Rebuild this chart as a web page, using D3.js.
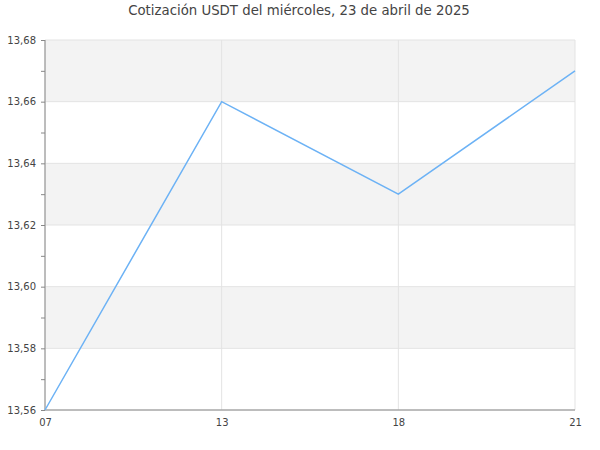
<!DOCTYPE html>
<html>
<head>
<meta charset="utf-8">
<script src="https://cdn.jsdelivr.net/npm/d3@7"></script>
<style>
	body { margin: 0; background: #fff; }
	text { font-family: "DejaVu Sans", sans-serif; }
</style>
</head>
<body>
<svg width="600" height="450"></svg>
<script>
// datos del gráfico
var horas = ['07', '13', '18', '21'];
var cotizacion = [13.56, 13.66, 13.63, 13.67];
var ticksY = [13.56, 13.58, 13.60, 13.62, 13.64, 13.66, 13.68];
var titulo = 'Cotización USDT del miércoles, 23 de abril de 2025';

var margin = {top: 40, right: 25, bottom: 40, left: 45};
var width = 600 - margin.left - margin.right;
var height = 450 - margin.top - margin.bottom;

var svg = d3.select('svg');
svg.append('text')
	.attr('x', 299).attr('y', 15)
	.attr('text-anchor', 'middle')
	.style('font-size', '13.3px')
	.style('fill', '#444')
	.text(titulo);

var root = svg.append('g').attr('transform', 'translate(' + margin.left + ',' + margin.top + ')');

var x = d3.scalePoint().domain(horas).range([0, width]);
var y = d3.scaleLinear().domain([13.56, 13.68]).range([height, 0]);
var fmt = function(d){ return d3.format('.2f')(d).replace('.', ','); };

// bandas alternas
var bandas = [];
for (var i = 0; i < ticksY.length - 1; i++) {
	if ((ticksY.length - 2 - i) % 2 == 0) bandas.push([ticksY[i], ticksY[i+1]]);
}
root.append('g').selectAll('rect').data(bandas).enter().append('rect')
	.attr('x', 0)
	.attr('y', function(d){ return y(d[1]); })
	.attr('width', width)
	.attr('height', function(d){ return y(d[0]) - y(d[1]); })
	.attr('fill', '#f3f3f3');

// rejilla
root.append('g').selectAll('line').data(ticksY).enter().append('line')
	.attr('x1', 0).attr('x2', width)
	.attr('y1', function(d){ return y(d); }).attr('y2', function(d){ return y(d); })
	.attr('stroke', '#e3e3e3');
root.append('g').selectAll('line').data(horas).enter().append('line')
	.attr('x1', function(d){ return x(d); }).attr('x2', function(d){ return x(d); })
	.attr('y1', 0).attr('y2', height)
	.attr('stroke', '#e3e3e3');

// ejes
var minor = d3.range(13.57, 13.68, 0.02);
var yMinor = root.append('g').call(d3.axisLeft(y).tickValues(minor).tickSize(4).tickFormat(''));
yMinor.select('.domain').remove();
yMinor.selectAll('line').attr('stroke', '#888');

var yAxis = root.append('g').call(d3.axisLeft(y).tickValues(ticksY).tickSize(4).tickPadding(5).tickFormat(fmt));
yAxis.select('.domain').attr('stroke', '#888').attr('d', 'M0,0V' + height);
yAxis.selectAll('line').attr('stroke', '#888');
yAxis.selectAll('text').style('font-size', '10px').style('fill', '#444').style('font-family', '"DejaVu Sans", sans-serif');

var xAxis = root.append('g').attr('transform', 'translate(0,' + height + ')')
	.call(d3.axisBottom(x).tickSize(0).tickPadding(9));
xAxis.select('.domain').attr('stroke', '#888').attr('d', 'M0,0H' + width);
xAxis.selectAll('text').style('font-size', '10px').style('fill', '#444').style('font-family', '"DejaVu Sans", sans-serif');

// línea
var line = d3.line()
	.x(function(d, i){ return x(horas[i]); })
	.y(function(d){ return y(d); });
root.append('path').datum(cotizacion)
	.attr('d', line)
	.attr('fill', 'none')
	.attr('stroke', '#6cb2f5')
	.attr('stroke-width', 1.5);
</script>
</body>
</html>
